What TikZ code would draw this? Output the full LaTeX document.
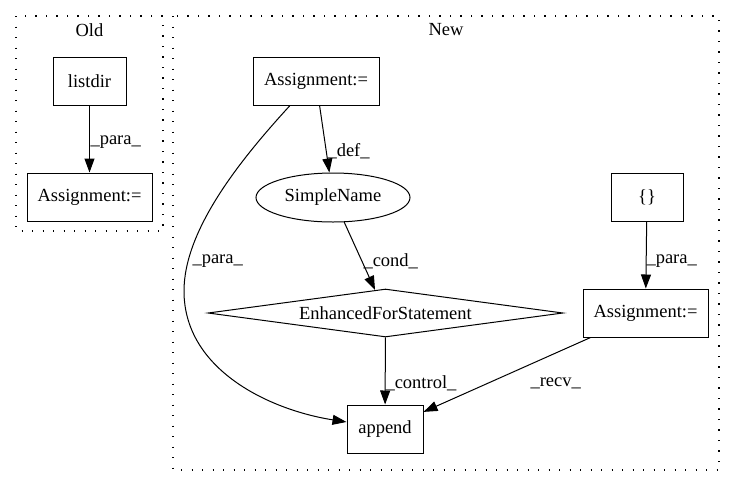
\documentclass[tikz,border=0pt]{standalone}
\usepackage{fontspec}
\setmainfont{Liberation Serif}
\usetikzlibrary{arrows.meta,shapes.geometric,calc}

\tikzset{
  every node/.style={font=\fontsize{18.5pt}{22pt}\selectfont},
  box/.style={draw, line width=1pt, rectangle, inner sep=0pt, minimum height=48pt},
  oval/.style={draw, line width=1pt, ellipse, inner sep=0pt},
  rhombus/.style={draw, line width=1pt, diamond, inner sep=0pt},
  edge/.style={line width=1pt, -{Triangle[length=14pt,width=10pt]}},
  elabel/.style={anchor=west, inner sep=0pt},
  cluster/.style={line width=1.1pt, dash pattern=on 1.2pt off 9.3pt, line cap=butt},
}

\begin{document}
\begin{tikzpicture}[x=1pt, y=-1pt]
  \useasboundingbox (0,0) rectangle (736,480);

  % clusters
  \draw[cluster] (16,16) rectangle (163,231);
  \draw[cluster] (173,16) rectangle (719,470);
  \node (oldtitle) at (89.5,30) {Old};
  \node (newtitle) at (446,30) {New};

  % Old graph
  \node[box, minimum width=73pt]  (lst) at (89.5,81)  {listdir};
  \node[box, minimum width=125pt] (oas) at (89.5,197) {Assignment:=};
  \draw[edge] (lst) -- (oas)
    node[elabel] (l1) at (90,142) {\_para\_};

  % New graph
  \node[box, minimum width=126pt] (nas) at (316,81) {Assignment:=};
  \node[oval, minimum width=154pt, minimum height=49pt] (sn) at (333,197.5) {SimpleName};
  \node[box, minimum width=72pt] (br) at (647,197) {\{\}};
  \node[rhombus, minimum width=355pt, minimum height=48pt,
        label={center:EnhancedForStatement}] (efs) at (385.5,313) {};
  \node[box, minimum width=125pt] (ras) at (645.5,313) {Assignment:=};
  \node[box, minimum width=76pt] (app) at (385,429) {append};

  \draw[edge] (nas) -- (sn)
    node[elabel] (l2) at (327,151) {\_def\_};
  \draw[edge] ([xshift=-26pt]nas.south)
      .. controls (240,160) and (184,230) .. (184,291)
      .. controls (184,370) and (270,410) .. ([yshift=7pt]app.west)
    node[elabel] (l3) at (192,261) {\_para\_};
  \draw[edge] (sn) -- (efs)
    node[elabel] (l4) at (363,261) {\_cond\_};
  \draw[edge] (br) -- (ras)
    node[elabel] (l5) at (646,261) {\_para\_};
  \draw[edge] (efs) -- (app)
    node[elabel] (l6) at (385,383) {\_control\_};
  \draw[edge] (ras) -- (app)
    node[elabel] (l7) at (530,383) {\_recv\_};
\end{tikzpicture}
\end{document}
